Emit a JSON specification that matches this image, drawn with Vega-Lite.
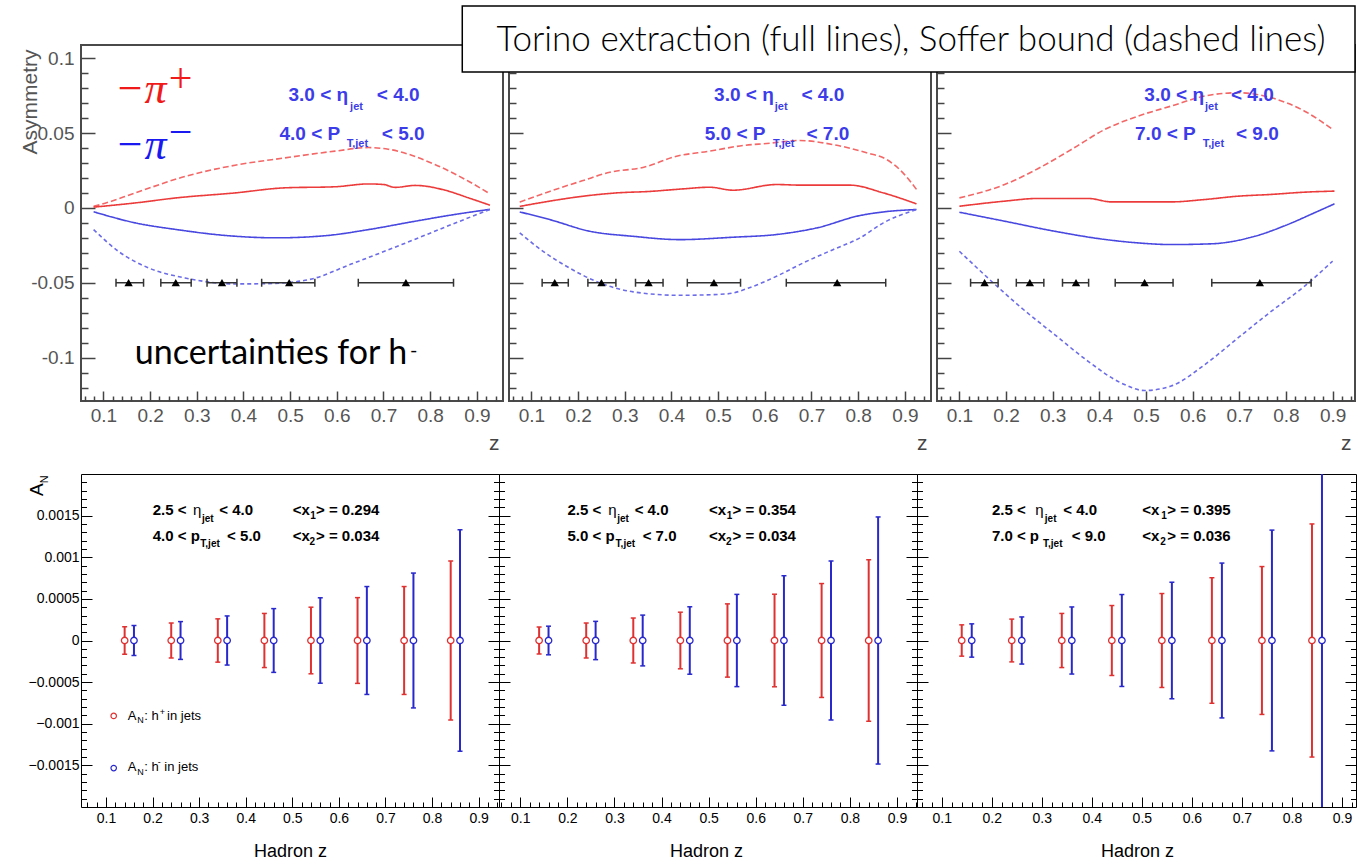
{
"$schema":"https://vega.github.io/schema/vega-lite/v6.json",
"background":"white",
"padding":{"left":18,"top":4,"right":0,"bottom":0},
"spacing":19,
"resolve":{"scale":{"color":"independent","strokeDash":"independent"}},
"config":{
 "view":{"stroke":null},
 "axis":{"domain":false,"grid":false,"labelOverlap":false,"labelFlush":false,"labelBound":false,"labelFont":"Liberation Sans","titleFont":"Liberation Sans","titleFontWeight":"normal"},
 "text":{"font":"Liberation Sans"}
},
"datasets":{
 "curves":[
  {"p":1,"s":"ps","z":0.079,"a":0.001},{"p":1,"s":"ps","z":0.096,"a":0.0024},{"p":1,"s":"ps","z":0.168,"a":0.010},{"p":1,"s":"ps","z":0.275,"a":0.021},{"p":1,"s":"ps","z":0.382,"a":0.0285},{"p":1,"s":"ps","z":0.489,"a":0.0334},{"p":1,"s":"ps","z":0.596,"a":0.0379},{"p":1,"s":"ps","z":0.668,"a":0.0403},{"p":1,"s":"ps","z":0.71,"a":0.0392},{"p":1,"s":"ps","z":0.81,"a":0.029},{"p":1,"s":"ps","z":0.882,"a":0.0178},{"p":1,"s":"ps","z":0.928,"a":0.0094},
  {"p":1,"s":"pt","z":0.079,"a":0.0005},{"p":1,"s":"pt","z":0.168,"a":0.0033},{"p":1,"s":"pt","z":0.257,"a":0.0067},{"p":1,"s":"pt","z":0.382,"a":0.010},{"p":1,"s":"pt","z":0.489,"a":0.0134},{"p":1,"s":"pt","z":0.596,"a":0.0141},{"p":1,"s":"pt","z":0.668,"a":0.016},{"p":1,"s":"pt","z":0.70,"a":0.0156},{"p":1,"s":"pt","z":0.725,"a":0.0137},{"p":1,"s":"pt","z":0.768,"a":0.015},{"p":1,"s":"pt","z":0.832,"a":0.0118},{"p":1,"s":"pt","z":0.882,"a":0.0067},{"p":1,"s":"pt","z":0.928,"a":0.0018},
  {"p":1,"s":"mt","z":0.079,"a":-0.0026},{"p":1,"s":"mt","z":0.168,"a":-0.010},{"p":1,"s":"mt","z":0.257,"a":-0.0145},{"p":1,"s":"mt","z":0.364,"a":-0.0185},{"p":1,"s":"mt","z":0.471,"a":-0.020},{"p":1,"s":"mt","z":0.578,"a":-0.0185},{"p":1,"s":"mt","z":0.668,"a":-0.0145},{"p":1,"s":"mt","z":0.768,"a":-0.0089},{"p":1,"s":"mt","z":0.861,"a":-0.004},{"p":1,"s":"mt","z":0.928,"a":-0.001},
  {"p":1,"s":"ms","z":0.079,"a":-0.0145},{"p":1,"s":"ms","z":0.132,"a":-0.029},{"p":1,"s":"ms","z":0.196,"a":-0.040},{"p":1,"s":"ms","z":0.275,"a":-0.0468},{"p":1,"s":"ms","z":0.382,"a":-0.0508},{"p":1,"s":"ms","z":0.4535,"a":-0.0506},{"p":1,"s":"ms","z":0.539,"a":-0.048},{"p":1,"s":"ms","z":0.632,"a":-0.0374},{"p":1,"s":"ms","z":0.739,"a":-0.0245},{"p":1,"s":"ms","z":0.846,"a":-0.0111},{"p":1,"s":"ms","z":0.928,"a":-0.001},
  {"p":2,"s":"ps","z":0.075,"a":0.0038},{"p":2,"s":"ps","z":0.139,"a":0.011},{"p":2,"s":"ps","z":0.211,"a":0.0183},{"p":2,"s":"ps","z":0.268,"a":0.0238},{"p":2,"s":"ps","z":0.339,"a":0.027},{"p":2,"s":"ps","z":0.411,"a":0.0345},{"p":2,"s":"ps","z":0.482,"a":0.0379},{"p":2,"s":"ps","z":0.554,"a":0.0417},{"p":2,"s":"ps","z":0.604,"a":0.043},{"p":2,"s":"ps","z":0.675,"a":0.045},{"p":2,"s":"ps","z":0.746,"a":0.0423},{"p":2,"s":"ps","z":0.818,"a":0.0368},{"p":2,"s":"ps","z":0.861,"a":0.0323},{"p":2,"s":"ps","z":0.896,"a":0.0234},{"p":2,"s":"ps","z":0.925,"a":0.0123},
  {"p":2,"s":"pt","z":0.075,"a":0.001},{"p":2,"s":"pt","z":0.139,"a":0.0045},{"p":2,"s":"pt","z":0.211,"a":0.0078},{"p":2,"s":"pt","z":0.282,"a":0.010},{"p":2,"s":"pt","z":0.354,"a":0.011},{"p":2,"s":"pt","z":0.425,"a":0.0127},{"p":2,"s":"pt","z":0.482,"a":0.0138},{"p":2,"s":"pt","z":0.532,"a":0.0118},{"p":2,"s":"pt","z":0.625,"a":0.0156},{"p":2,"s":"pt","z":0.675,"a":0.0152},{"p":2,"s":"pt","z":0.782,"a":0.0152},{"p":2,"s":"pt","z":0.854,"a":0.010},{"p":2,"s":"pt","z":0.925,"a":0.0027},
  {"p":2,"s":"mt","z":0.075,"a":-0.0027},{"p":2,"s":"mt","z":0.139,"a":-0.0078},{"p":2,"s":"mt","z":0.225,"a":-0.0156},{"p":2,"s":"mt","z":0.318,"a":-0.019},{"p":2,"s":"mt","z":0.418,"a":-0.0212},{"p":2,"s":"mt","z":0.532,"a":-0.0196},{"p":2,"s":"mt","z":0.625,"a":-0.0178},{"p":2,"s":"mt","z":0.711,"a":-0.0134},{"p":2,"s":"mt","z":0.804,"a":-0.0051},{"p":2,"s":"mt","z":0.854,"a":-0.0027},{"p":2,"s":"mt","z":0.925,"a":-0.0011},
  {"p":2,"s":"ms","z":0.075,"a":-0.0167},{"p":2,"s":"ms","z":0.125,"a":-0.029},{"p":2,"s":"ms","z":0.175,"a":-0.039},{"p":2,"s":"ms","z":0.246,"a":-0.050},{"p":2,"s":"ms","z":0.318,"a":-0.0561},{"p":2,"s":"ms","z":0.418,"a":-0.0584},{"p":2,"s":"ms","z":0.518,"a":-0.0575},{"p":2,"s":"ms","z":0.575,"a":-0.0524},{"p":2,"s":"ms","z":0.625,"a":-0.0457},{"p":2,"s":"ms","z":0.682,"a":-0.0368},{"p":2,"s":"ms","z":0.746,"a":-0.0279},{"p":2,"s":"ms","z":0.804,"a":-0.020},{"p":2,"s":"ms","z":0.854,"a":-0.010},{"p":2,"s":"ms","z":0.925,"a":-0.0011},
  {"p":3,"s":"ps","z":0.1,"a":0.0067},{"p":3,"s":"ps","z":0.197,"a":0.0156},{"p":3,"s":"ps","z":0.269,"a":0.0263},{"p":3,"s":"ps","z":0.34,"a":0.039},{"p":3,"s":"ps","z":0.412,"a":0.0524},{"p":3,"s":"ps","z":0.483,"a":0.0613},{"p":3,"s":"ps","z":0.554,"a":0.068},{"p":3,"s":"ps","z":0.626,"a":0.0747},{"p":3,"s":"ps","z":0.697,"a":0.0769},{"p":3,"s":"ps","z":0.769,"a":0.0735},{"p":3,"s":"ps","z":0.84,"a":0.0646},{"p":3,"s":"ps","z":0.9,"a":0.0524},
  {"p":3,"s":"pt","z":0.1,"a":0.0011},{"p":3,"s":"pt","z":0.197,"a":0.0045},{"p":3,"s":"pt","z":0.269,"a":0.0063},{"p":3,"s":"pt","z":0.376,"a":0.0063},{"p":3,"s":"pt","z":0.426,"a":0.004},{"p":3,"s":"pt","z":0.554,"a":0.004},{"p":3,"s":"pt","z":0.626,"a":0.0056},{"p":3,"s":"pt","z":0.697,"a":0.0078},{"p":3,"s":"pt","z":0.769,"a":0.009},{"p":3,"s":"pt","z":0.84,"a":0.0105},{"p":3,"s":"pt","z":0.904,"a":0.0112},
  {"p":3,"s":"mt","z":0.1,"a":-0.0029},{"p":3,"s":"mt","z":0.197,"a":-0.0089},{"p":3,"s":"mt","z":0.304,"a":-0.0156},{"p":3,"s":"mt","z":0.412,"a":-0.0211},{"p":3,"s":"mt","z":0.483,"a":-0.0234},{"p":3,"s":"mt","z":0.554,"a":-0.0245},{"p":3,"s":"mt","z":0.64,"a":-0.024},{"p":3,"s":"mt","z":0.733,"a":-0.019},{"p":3,"s":"mt","z":0.804,"a":-0.0111},{"p":3,"s":"mt","z":0.861,"a":-0.0033},{"p":3,"s":"mt","z":0.904,"a":0.0027},
  {"p":3,"s":"ms","z":0.1,"a":-0.029},{"p":3,"s":"ms","z":0.161,"a":-0.0468},{"p":3,"s":"ms","z":0.233,"a":-0.0668},{"p":3,"s":"ms","z":0.304,"a":-0.0846},{"p":3,"s":"ms","z":0.376,"a":-0.1025},{"p":3,"s":"ms","z":0.447,"a":-0.117},{"p":3,"s":"ms","z":0.497,"a":-0.122},{"p":3,"s":"ms","z":0.554,"a":-0.119},{"p":3,"s":"ms","z":0.626,"a":-0.1047},{"p":3,"s":"ms","z":0.697,"a":-0.0869},{"p":3,"s":"ms","z":0.769,"a":-0.069},{"p":3,"s":"ms","z":0.84,"a":-0.0523},{"p":3,"s":"ms","z":0.9,"a":-0.0356}
 ],
 "tri":[
  {"p":1,"z":0.154,"lo":0.127,"hi":0.186,"a":-0.05},{"p":1,"z":0.255,"lo":0.223,"hi":0.288,"a":-0.05},{"p":1,"z":0.354,"lo":0.322,"hi":0.386,"a":-0.05},{"p":1,"z":0.498,"lo":0.439,"hi":0.553,"a":-0.05},{"p":1,"z":0.748,"lo":0.646,"hi":0.85,"a":-0.05},
  {"p":2,"z":0.15,"lo":0.123,"hi":0.179,"a":-0.05},{"p":2,"z":0.25,"lo":0.221,"hi":0.281,"a":-0.05},{"p":2,"z":0.351,"lo":0.323,"hi":0.382,"a":-0.05},{"p":2,"z":0.491,"lo":0.434,"hi":0.548,"a":-0.05},{"p":2,"z":0.755,"lo":0.646,"hi":0.859,"a":-0.05},
  {"p":3,"z":0.154,"lo":0.124,"hi":0.183,"a":-0.05},{"p":3,"z":0.251,"lo":0.222,"hi":0.281,"a":-0.05},{"p":3,"z":0.35,"lo":0.321,"hi":0.377,"a":-0.05},{"p":3,"z":0.497,"lo":0.434,"hi":0.558,"a":-0.05},{"p":3,"z":0.744,"lo":0.641,"hi":0.854,"a":-0.05}
 ],
 "an":[
  {"p":4,"q":"hp","z":0.14,"a":0,"lo":-0.000165,"hi":0.000165},{"p":4,"q":"hp","z":0.24,"a":0,"lo":-0.00021,"hi":0.00021},{"p":4,"q":"hp","z":0.34,"a":0,"lo":-0.00026,"hi":0.00026},{"p":4,"q":"hp","z":0.44,"a":0,"lo":-0.000325,"hi":0.000325},{"p":4,"q":"hp","z":0.54,"a":0,"lo":-0.0004,"hi":0.0004},{"p":4,"q":"hp","z":0.64,"a":0,"lo":-0.000515,"hi":0.000515},{"p":4,"q":"hp","z":0.74,"a":0,"lo":-0.000648,"hi":0.000648},{"p":4,"q":"hp","z":0.84,"a":0,"lo":-0.000955,"hi":0.000955},
  {"p":4,"q":"hm","z":0.16,"a":0,"lo":-0.00018,"hi":0.00018},{"p":4,"q":"hm","z":0.26,"a":0,"lo":-0.000227,"hi":0.000227},{"p":4,"q":"hm","z":0.36,"a":0,"lo":-0.000295,"hi":0.000295},{"p":4,"q":"hm","z":0.46,"a":0,"lo":-0.000383,"hi":0.000383},{"p":4,"q":"hm","z":0.56,"a":0,"lo":-0.000513,"hi":0.000513},{"p":4,"q":"hm","z":0.66,"a":0,"lo":-0.000648,"hi":0.000648},{"p":4,"q":"hm","z":0.76,"a":0,"lo":-0.00081,"hi":0.00081},{"p":4,"q":"hm","z":0.86,"a":0,"lo":-0.00133,"hi":0.00133},
  {"p":5,"q":"hp","z":0.14,"a":0,"lo":-0.000162,"hi":0.000162},{"p":5,"q":"hp","z":0.24,"a":0,"lo":-0.00021,"hi":0.00021},{"p":5,"q":"hp","z":0.34,"a":0,"lo":-0.00027,"hi":0.00027},{"p":5,"q":"hp","z":0.44,"a":0,"lo":-0.00034,"hi":0.00034},{"p":5,"q":"hp","z":0.54,"a":0,"lo":-0.00044,"hi":0.00044},{"p":5,"q":"hp","z":0.64,"a":0,"lo":-0.000556,"hi":0.000556},{"p":5,"q":"hp","z":0.74,"a":0,"lo":-0.000684,"hi":0.000684},{"p":5,"q":"hp","z":0.84,"a":0,"lo":-0.00097,"hi":0.00097},
  {"p":5,"q":"hm","z":0.16,"a":0,"lo":-0.000172,"hi":0.000172},{"p":5,"q":"hm","z":0.26,"a":0,"lo":-0.00023,"hi":0.00023},{"p":5,"q":"hm","z":0.36,"a":0,"lo":-0.000305,"hi":0.000305},{"p":5,"q":"hm","z":0.46,"a":0,"lo":-0.000405,"hi":0.000405},{"p":5,"q":"hm","z":0.56,"a":0,"lo":-0.000554,"hi":0.000554},{"p":5,"q":"hm","z":0.66,"a":0,"lo":-0.000778,"hi":0.000778},{"p":5,"q":"hm","z":0.76,"a":0,"lo":-0.000955,"hi":0.000955},{"p":5,"q":"hm","z":0.86,"a":0,"lo":-0.001484,"hi":0.001484},
  {"p":6,"q":"hp","z":0.14,"a":0,"lo":-0.000188,"hi":0.000188},{"p":6,"q":"hp","z":0.24,"a":0,"lo":-0.000257,"hi":0.000257},{"p":6,"q":"hp","z":0.34,"a":0,"lo":-0.000325,"hi":0.000325},{"p":6,"q":"hp","z":0.44,"a":0,"lo":-0.00042,"hi":0.00042},{"p":6,"q":"hp","z":0.54,"a":0,"lo":-0.000564,"hi":0.000564},{"p":6,"q":"hp","z":0.64,"a":0,"lo":-0.000754,"hi":0.000754},{"p":6,"q":"hp","z":0.74,"a":0,"lo":-0.000888,"hi":0.000888},{"p":6,"q":"hp","z":0.84,"a":0,"lo":-0.0014,"hi":0.0014},
  {"p":6,"q":"hm","z":0.16,"a":0,"lo":-0.0002,"hi":0.0002},{"p":6,"q":"hm","z":0.26,"a":0,"lo":-0.000283,"hi":0.000283},{"p":6,"q":"hm","z":0.36,"a":0,"lo":-0.000403,"hi":0.000403},{"p":6,"q":"hm","z":0.46,"a":0,"lo":-0.000552,"hi":0.000552},{"p":6,"q":"hm","z":0.56,"a":0,"lo":-0.0007,"hi":0.0007},{"p":6,"q":"hm","z":0.66,"a":0,"lo":-0.00093,"hi":0.00093},{"p":6,"q":"hm","z":0.76,"a":0,"lo":-0.001326,"hi":0.001326},{"p":6,"q":"hm","z":0.86,"a":0,"lo":-0.0022,"hi":0.0022}
 ],
 "legc":[{"z":0.1165,"a":-0.000906,"q":"hp"},{"z":0.1165,"a":-0.001532,"q":"hm"}],
 "box":[{"x1":-0.9656,"x2":0.948,"y1":0.0907,"y2":0.1348,"tz":-0.0037,"ta":0.1047,"t":"Torino extraction (full lines), Soffer bound (dashed lines)"}],
 "txt":[
  {"p":1,"k":"big","z":0.4964,"a":0.0713,"t":"3.0 < η"},{"p":1,"k":"sub","z":0.6284,"a":0.0653,"t":"jet"},{"p":1,"k":"big","z":0.6856,"a":0.0713,"t":"<  4.0"},
  {"p":1,"k":"big","z":0.4771,"a":0.0451,"t":"4.0 < P"},{"p":1,"k":"sub","z":0.6213,"a":0.0404,"t":"T,jet"},{"p":1,"k":"big","z":0.6963,"a":0.0451,"t":"< 5.0"},
  {"p":2,"k":"big","z":0.4913,"a":0.0713,"t":"3.0 < η"},{"p":2,"k":"sub","z":0.6213,"a":0.0653,"t":"jet"},{"p":2,"k":"big","z":0.6785,"a":0.0713,"t":"<  4.0"},
  {"p":2,"k":"big","z":0.4713,"a":0.0451,"t":"5.0 < P"},{"p":2,"k":"sub","z":0.6177,"a":0.0404,"t":"T,jet"},{"p":2,"k":"big","z":0.6892,"a":0.0451,"t":"< 7.0"},
  {"p":3,"k":"big","z":0.4964,"a":0.0713,"t":"3.0 < η"},{"p":3,"k":"sub","z":0.6265,"a":0.0653,"t":"jet"},{"p":3,"k":"big","z":0.6822,"a":0.0713,"t":"<  4.0"},
  {"p":3,"k":"big","z":0.4765,"a":0.0451,"t":"7.0 < P"},{"p":3,"k":"sub","z":0.6215,"a":0.0404,"t":"T,jet"},{"p":3,"k":"big","z":0.6929,"a":0.0451,"t":"< 9.0"},
  {"p":1,"k":"pir","z":0.1242,"a":0.0702,"t":"−π"},{"p":1,"k":"pib","z":0.1242,"a":0.0324,"t":"−π"},
  {"p":1,"k":"supr","z":0.24,"a":0.086,"t":"+"},{"p":1,"k":"supb","z":0.24,"a":0.0499,"t":"−"},
  {"p":1,"k":"unc","z":0.1673,"a":-0.1045,"t":"uncertainties for h"},{"p":1,"k":"uncsup","z":0.757,"a":-0.0958,"t":"-"},
  {"p":4,"k":"bb","z":0.2003,"a":0.001508,"t":"2.5 <"},{"p":4,"k":"eta","z":0.287,"a":0.001508,"t":"η"},{"p":4,"k":"bsub","z":0.306,"a":0.00142,"t":"jet"},{"p":4,"k":"bb","z":0.343,"a":0.001508,"t":"< 4.0"},
  {"p":4,"k":"bb","z":0.5008,"a":0.001508,"t":"<x"},{"p":4,"k":"bsub","z":0.5386,"a":0.00146,"t":"1"},{"p":4,"k":"bb","z":0.5508,"a":0.001508,"t":"> = 0.294"},
  {"p":4,"k":"bb","z":0.2003,"a":0.0012,"t":"4.0 < p"},{"p":4,"k":"bsub","z":0.3025,"a":0.001122,"t":"T,jet"},{"p":4,"k":"bb","z":0.36,"a":0.0012,"t":"< 5.0"},
  {"p":4,"k":"bb","z":0.5008,"a":0.0012,"t":"<x"},{"p":4,"k":"bsub","z":0.537,"a":0.00115,"t":"2"},{"p":4,"k":"bb","z":0.5508,"a":0.0012,"t":"> = 0.034"},
  {"p":5,"k":"bb","z":0.2003,"a":0.001508,"t":"2.5 <"},{"p":5,"k":"eta","z":0.287,"a":0.001508,"t":"η"},{"p":5,"k":"bsub","z":0.306,"a":0.00142,"t":"jet"},{"p":5,"k":"bb","z":0.343,"a":0.001508,"t":"< 4.0"},
  {"p":5,"k":"bb","z":0.5008,"a":0.001508,"t":"<x"},{"p":5,"k":"bsub","z":0.5386,"a":0.00146,"t":"1"},{"p":5,"k":"bb","z":0.5508,"a":0.001508,"t":"> = 0.354"},
  {"p":5,"k":"bb","z":0.2003,"a":0.0012,"t":"5.0 < p"},{"p":5,"k":"bsub","z":0.3025,"a":0.001122,"t":"T,jet"},{"p":5,"k":"bb","z":0.36,"a":0.0012,"t":"< 7.0"},
  {"p":5,"k":"bb","z":0.5008,"a":0.0012,"t":"<x"},{"p":5,"k":"bsub","z":0.537,"a":0.00115,"t":"2"},{"p":5,"k":"bb","z":0.5508,"a":0.0012,"t":"> = 0.034"},
  {"p":6,"k":"bb","z":0.2003,"a":0.001508,"t":"2.5 <"},{"p":6,"k":"eta","z":0.287,"a":0.001508,"t":"η"},{"p":6,"k":"bsub","z":0.306,"a":0.00142,"t":"jet"},{"p":6,"k":"bb","z":0.343,"a":0.001508,"t":"< 4.0"},
  {"p":6,"k":"bb","z":0.5008,"a":0.001508,"t":"<x"},{"p":6,"k":"bsub","z":0.5386,"a":0.00146,"t":"1"},{"p":6,"k":"bb","z":0.5508,"a":0.001508,"t":"> = 0.395"},
  {"p":6,"k":"bb","z":0.2003,"a":0.0012,"t":"7.0 < p"},{"p":6,"k":"bsub","z":0.3025,"a":0.001122,"t":"T,jet"},{"p":6,"k":"bb","z":0.36,"a":0.0012,"t":"< 9.0"},
  {"p":6,"k":"bb","z":0.5008,"a":0.0012,"t":"<x"},{"p":6,"k":"bsub","z":0.537,"a":0.00115,"t":"2"},{"p":6,"k":"bb","z":0.5508,"a":0.0012,"t":"> = 0.036"},
  {"p":4,"k":"leg","z":0.1466,"a":-0.000954,"t":"A"},{"p":4,"k":"legsub","z":0.1673,"a":-0.000994,"t":"N"},{"p":4,"k":"leg","z":0.1822,"a":-0.000954,"t":": h"},{"p":4,"k":"legsub","z":0.2153,"a":-0.000894,"t":"+"},{"p":4,"k":"leg","z":0.231,"a":-0.000954,"t":"in jets"},
  {"p":4,"k":"leg","z":0.1466,"a":-0.001572,"t":"A"},{"p":4,"k":"legsub","z":0.1673,"a":-0.001612,"t":"N"},{"p":4,"k":"leg","z":0.1822,"a":-0.001572,"t":": h"},{"p":4,"k":"legsub","z":0.211,"a":-0.001493,"t":"-"},{"p":4,"k":"leg","z":0.2252,"a":-0.001572,"t":"in jets"},
  {"p":4,"k":"AN","z":-0.0359,"a":0.001736,"t":"A"},{"p":4,"k":"ANsub","z":-0.0245,"a":0.00189,"t":"N"}
 ]
},
"vconcat":[
{"hconcat":[
 {"width":422,"height":356,"view":{"stroke":"#4a4a4a","strokeWidth":2},
  "layer":[
   {"mark":{"type":"rule","color":"#6f6fe6","strokeWidth":2},"encoding":{"y":{"datum":0,"type":"quantitative","scale":{"domain":[-0.129,0.1088]},"axis":{"title":"Asymmetry","titleX":-62,"titleY":4,"titleAngle":270,"titleAlign":"right","titleBaseline":"top","titleFontSize":21,"titleColor":"#555","values":[-0.12,-0.11,-0.1,-0.09,-0.08,-0.07,-0.06,-0.05,-0.04,-0.03,-0.02,-0.01,0,0.01,0.02,0.03,0.04,0.05,0.06,0.07,0.08,0.09,0.1],"labelExpr":"abs(datum.value*20-round(datum.value*20))<0.001 ? replace(format(datum.value,'~g'),'−','-') : ''","labelOverlap":false,"labelFontSize":19,"labelColor":"#555","labelPadding":21,"tickSize":{"condition":{"test":"abs(datum.value*20-round(datum.value*20))<0.001","value":-14},"value":-7},"tickColor":"#444","tickWidth":1.5}}}},
   {"encoding":{
     "x":{"field":"z","type":"quantitative","scale":{"domain":[0.052,0.956]},"axis":{"title":"z","titleX":418,"titleY":48,"titleAlign":"right","titleBaseline":"alphabetic","titleFontSize":21,"titleColor":"#444","values":[0.06,0.08,0.1,0.12,0.14,0.16,0.18,0.2,0.22,0.24,0.26,0.28,0.3,0.32,0.34,0.36,0.38,0.4,0.42,0.44,0.46,0.48,0.5,0.52,0.54,0.56,0.58,0.6,0.62,0.64,0.66,0.68,0.7,0.72,0.74,0.76,0.78,0.8,0.82,0.84,0.86,0.88,0.9,0.92,0.94],"labelExpr":"abs(datum.value*10-round(datum.value*10))<0.001 ? format(datum.value,'.1f') : ''","labelFontSize":19,"labelColor":"#555","labelPadding":15,"tickSize":{"condition":{"test":"abs(datum.value*10-round(datum.value*10))<0.001","value":-10},"value":-5},"tickColor":"#444","tickWidth":1.5}},
     "y":{"field":"a","type":"quantitative","scale":{"domain":[-0.129,0.1088]},"axis":{"title":"Asymmetry","titleX":-62,"titleY":4,"titleAngle":270,"titleAlign":"right","titleBaseline":"top","titleFontSize":21,"titleColor":"#555","values":[-0.12,-0.11,-0.1,-0.09,-0.08,-0.07,-0.06,-0.05,-0.04,-0.03,-0.02,-0.01,0,0.01,0.02,0.03,0.04,0.05,0.06,0.07,0.08,0.09,0.1],"labelExpr":"abs(datum.value*20-round(datum.value*20))<0.001 ? replace(format(datum.value,'~g'),'−','-') : ''","labelOverlap":false,"labelFontSize":19,"labelColor":"#555","labelPadding":21,"tickSize":{"condition":{"test":"abs(datum.value*20-round(datum.value*20))<0.001","value":-14},"value":-7},"tickColor":"#444","tickWidth":1.5}}},
    "layer":[
     {"data":{"name":"curves"},"transform":[{"filter":"datum.p==1"}],"mark":{"type":"line","strokeWidth":1.6,"interpolate":"monotone"},"encoding":{"color":{"field":"s","type":"nominal","scale":{"domain":["pt","ps","mt","ms"],"range":["#ec3b3b","#f36767","#4848e0","#6c6ce8"]},"legend":null},"strokeDash":{"field":"s","type":"nominal","scale":{"domain":["pt","ps","mt","ms"],"range":[[1,0],[6,3],[1,0],[4,3]]},"legend":null}}},
     {"data":{"name":"tri"},"transform":[{"filter":"datum.p==1"}],"mark":{"type":"rule","color":"#333","strokeWidth":1.5},"encoding":{"x":{"field":"lo","type":"quantitative","scale":{"domain":[0.052,0.956]}},"x2":{"field":"hi"}}},
     {"data":{"name":"tri"},"transform":[{"filter":"datum.p==1"}],"mark":{"type":"point","shape":"M0,-1L0,1","size":64,"filled":false,"color":"#333","strokeWidth":1.5,"opacity":1},"encoding":{"x":{"field":"lo","type":"quantitative","scale":{"domain":[0.052,0.956]}}}},
     {"data":{"name":"tri"},"transform":[{"filter":"datum.p==1"}],"mark":{"type":"point","shape":"M0,-1L0,1","size":64,"filled":false,"color":"#333","strokeWidth":1.5,"opacity":1},"encoding":{"x":{"field":"hi","type":"quantitative","scale":{"domain":[0.052,0.956]}}}},
     {"data":{"name":"tri"},"transform":[{"filter":"datum.p==1"}],"mark":{"type":"point","shape":"triangle-up","filled":true,"color":"black","size":70,"opacity":1}},
     {"data":{"name":"txt"},"transform":[{"filter":"datum.p==1 && datum.k=='big'"}],"mark":{"type":"text","align":"left","baseline":"alphabetic","font":"Liberation Sans","fontSize":19,"fontWeight":"bold","color":"#3c3ce8"},"encoding":{"text":{"field":"t"}}},
     {"data":{"name":"txt"},"transform":[{"filter":"datum.p==1 && datum.k=='sub'"}],"mark":{"type":"text","align":"left","baseline":"alphabetic","font":"Liberation Sans","fontSize":11,"fontWeight":"bold","color":"#3c3ce8"},"encoding":{"text":{"field":"t"}}},
     {"data":{"name":"txt"},"transform":[{"filter":"datum.p==1 && datum.k=='pir'"}],"mark":{"type":"text","align":"left","baseline":"alphabetic","font":"Liberation Serif","fontSize":44,"fontStyle":"italic","color":"#f01a1a"},"encoding":{"text":{"field":"t"}}},
     {"data":{"name":"txt"},"transform":[{"filter":"datum.p==1 && datum.k=='pib'"}],"mark":{"type":"text","align":"left","baseline":"alphabetic","font":"Liberation Serif","fontSize":44,"fontStyle":"italic","color":"#1a1af0"},"encoding":{"text":{"field":"t"}}},
     {"data":{"name":"txt"},"transform":[{"filter":"datum.p==1 && datum.k=='supr'"}],"mark":{"type":"text","align":"left","baseline":"middle","font":"Liberation Serif","fontSize":42,"color":"#f01a1a"},"encoding":{"text":{"field":"t"}}},
     {"data":{"name":"txt"},"transform":[{"filter":"datum.p==1 && datum.k=='supb'"}],"mark":{"type":"text","align":"left","baseline":"middle","font":"Liberation Serif","fontSize":42,"color":"#1a1af0"},"encoding":{"text":{"field":"t"}}},
     {"data":{"name":"txt"},"transform":[{"filter":"datum.p==1 && datum.k=='unc'"}],"mark":{"type":"text","align":"left","baseline":"alphabetic","font":"Lato","fontSize":34,"color":"black"},"encoding":{"text":{"field":"t"}}},
     {"data":{"name":"txt"},"transform":[{"filter":"datum.p==1 && datum.k=='uncsup'"}],"mark":{"type":"text","align":"left","baseline":"middle","font":"Lato","fontSize":20,"color":"black"},"encoding":{"text":{"field":"t"}}}
    ]}
  ]},
 {"width":422,"height":356,"view":{"stroke":"#4a4a4a","strokeWidth":2},
  "layer":[
   {"mark":{"type":"rule","color":"#6f6fe6","strokeWidth":2},"encoding":{"y":{"datum":0,"type":"quantitative","scale":{"domain":[-0.129,0.1088]},"axis":{"title":null,"labels":false,"values":[-0.12,-0.11,-0.1,-0.09,-0.08,-0.07,-0.06,-0.05,-0.04,-0.03,-0.02,-0.01,0,0.01,0.02,0.03,0.04,0.05,0.06,0.07,0.08,0.09,0.1],"tickSize":{"condition":{"test":"abs(datum.value*20-round(datum.value*20))<0.001","value":-14},"value":-7},"tickColor":"#444","tickWidth":1.5}}}},
   {"encoding":{
     "x":{"field":"z","type":"quantitative","scale":{"domain":[0.052,0.956]},"axis":{"title":"z","titleX":418,"titleY":48,"titleAlign":"right","titleBaseline":"alphabetic","titleFontSize":21,"titleColor":"#444","values":[0.06,0.08,0.1,0.12,0.14,0.16,0.18,0.2,0.22,0.24,0.26,0.28,0.3,0.32,0.34,0.36,0.38,0.4,0.42,0.44,0.46,0.48,0.5,0.52,0.54,0.56,0.58,0.6,0.62,0.64,0.66,0.68,0.7,0.72,0.74,0.76,0.78,0.8,0.82,0.84,0.86,0.88,0.9,0.92,0.94],"labelExpr":"abs(datum.value*10-round(datum.value*10))<0.001 ? format(datum.value,'.1f') : ''","labelFontSize":19,"labelColor":"#555","labelPadding":15,"tickSize":{"condition":{"test":"abs(datum.value*10-round(datum.value*10))<0.001","value":-10},"value":-5},"tickColor":"#444","tickWidth":1.5}},
     "y":{"field":"a","type":"quantitative","scale":{"domain":[-0.129,0.1088]},"axis":{"title":null,"labels":false,"values":[-0.12,-0.11,-0.1,-0.09,-0.08,-0.07,-0.06,-0.05,-0.04,-0.03,-0.02,-0.01,0,0.01,0.02,0.03,0.04,0.05,0.06,0.07,0.08,0.09,0.1],"tickSize":{"condition":{"test":"abs(datum.value*20-round(datum.value*20))<0.001","value":-14},"value":-7},"tickColor":"#444","tickWidth":1.5}}},
    "layer":[
     {"data":{"name":"curves"},"transform":[{"filter":"datum.p==2"}],"mark":{"type":"line","strokeWidth":1.6,"interpolate":"monotone"},"encoding":{"color":{"field":"s","type":"nominal","scale":{"domain":["pt","ps","mt","ms"],"range":["#ec3b3b","#f36767","#4848e0","#6c6ce8"]},"legend":null},"strokeDash":{"field":"s","type":"nominal","scale":{"domain":["pt","ps","mt","ms"],"range":[[1,0],[6,3],[1,0],[4,3]]},"legend":null}}},
     {"data":{"name":"tri"},"transform":[{"filter":"datum.p==2"}],"mark":{"type":"rule","color":"#333","strokeWidth":1.5},"encoding":{"x":{"field":"lo","type":"quantitative","scale":{"domain":[0.052,0.956]}},"x2":{"field":"hi"}}},
     {"data":{"name":"tri"},"transform":[{"filter":"datum.p==2"}],"mark":{"type":"point","shape":"M0,-1L0,1","size":64,"filled":false,"color":"#333","strokeWidth":1.5,"opacity":1},"encoding":{"x":{"field":"lo","type":"quantitative","scale":{"domain":[0.052,0.956]}}}},
     {"data":{"name":"tri"},"transform":[{"filter":"datum.p==2"}],"mark":{"type":"point","shape":"M0,-1L0,1","size":64,"filled":false,"color":"#333","strokeWidth":1.5,"opacity":1},"encoding":{"x":{"field":"hi","type":"quantitative","scale":{"domain":[0.052,0.956]}}}},
     {"data":{"name":"tri"},"transform":[{"filter":"datum.p==2"}],"mark":{"type":"point","shape":"triangle-up","filled":true,"color":"black","size":70,"opacity":1}},
     {"data":{"name":"txt"},"transform":[{"filter":"datum.p==2 && datum.k=='big'"}],"mark":{"type":"text","align":"left","baseline":"alphabetic","font":"Liberation Sans","fontSize":19,"fontWeight":"bold","color":"#3c3ce8"},"encoding":{"text":{"field":"t"}}},
     {"data":{"name":"txt"},"transform":[{"filter":"datum.p==2 && datum.k=='sub'"}],"mark":{"type":"text","align":"left","baseline":"alphabetic","font":"Liberation Sans","fontSize":11,"fontWeight":"bold","color":"#3c3ce8"},"encoding":{"text":{"field":"t"}}}
    ]}
  ]},
 {"width":418,"height":356,"view":{"stroke":"#4a4a4a","strokeWidth":2},
  "layer":[
   {"mark":{"type":"rule","color":"#6f6fe6","strokeWidth":2},"encoding":{"y":{"datum":0,"type":"quantitative","scale":{"domain":[-0.129,0.1088]},"axis":{"title":null,"labels":false,"values":[-0.12,-0.11,-0.1,-0.09,-0.08,-0.07,-0.06,-0.05,-0.04,-0.03,-0.02,-0.01,0,0.01,0.02,0.03,0.04,0.05,0.06,0.07,0.08,0.09,0.1],"tickSize":{"condition":{"test":"abs(datum.value*20-round(datum.value*20))<0.001","value":-14},"value":-7},"tickColor":"#444","tickWidth":1.5}}}},
   {"encoding":{
     "x":{"field":"z","type":"quantitative","scale":{"domain":[0.052,0.948]},"axis":{"title":"z","titleX":414,"titleY":48,"titleAlign":"right","titleBaseline":"alphabetic","titleFontSize":21,"titleColor":"#444","values":[0.06,0.08,0.1,0.12,0.14,0.16,0.18,0.2,0.22,0.24,0.26,0.28,0.3,0.32,0.34,0.36,0.38,0.4,0.42,0.44,0.46,0.48,0.5,0.52,0.54,0.56,0.58,0.6,0.62,0.64,0.66,0.68,0.7,0.72,0.74,0.76,0.78,0.8,0.82,0.84,0.86,0.88,0.9,0.92,0.94],"labelExpr":"abs(datum.value*10-round(datum.value*10))<0.001 ? format(datum.value,'.1f') : ''","labelFontSize":19,"labelColor":"#555","labelPadding":15,"tickSize":{"condition":{"test":"abs(datum.value*10-round(datum.value*10))<0.001","value":-10},"value":-5},"tickColor":"#444","tickWidth":1.5}},
     "y":{"field":"a","type":"quantitative","scale":{"domain":[-0.129,0.1088]},"axis":{"title":null,"labels":false,"values":[-0.12,-0.11,-0.1,-0.09,-0.08,-0.07,-0.06,-0.05,-0.04,-0.03,-0.02,-0.01,0,0.01,0.02,0.03,0.04,0.05,0.06,0.07,0.08,0.09,0.1],"tickSize":{"condition":{"test":"abs(datum.value*20-round(datum.value*20))<0.001","value":-14},"value":-7},"tickColor":"#444","tickWidth":1.5}}},
    "layer":[
     {"data":{"name":"curves"},"transform":[{"filter":"datum.p==3"}],"mark":{"type":"line","strokeWidth":1.6,"interpolate":"monotone"},"encoding":{"color":{"field":"s","type":"nominal","scale":{"domain":["pt","ps","mt","ms"],"range":["#ec3b3b","#f36767","#4848e0","#6c6ce8"]},"legend":null},"strokeDash":{"field":"s","type":"nominal","scale":{"domain":["pt","ps","mt","ms"],"range":[[1,0],[6,3],[1,0],[4,3]]},"legend":null}}},
     {"data":{"name":"tri"},"transform":[{"filter":"datum.p==3"}],"mark":{"type":"rule","color":"#333","strokeWidth":1.5},"encoding":{"x":{"field":"lo","type":"quantitative","scale":{"domain":[0.052,0.948]}},"x2":{"field":"hi"}}},
     {"data":{"name":"tri"},"transform":[{"filter":"datum.p==3"}],"mark":{"type":"point","shape":"M0,-1L0,1","size":64,"filled":false,"color":"#333","strokeWidth":1.5,"opacity":1},"encoding":{"x":{"field":"lo","type":"quantitative","scale":{"domain":[0.052,0.948]}}}},
     {"data":{"name":"tri"},"transform":[{"filter":"datum.p==3"}],"mark":{"type":"point","shape":"M0,-1L0,1","size":64,"filled":false,"color":"#333","strokeWidth":1.5,"opacity":1},"encoding":{"x":{"field":"hi","type":"quantitative","scale":{"domain":[0.052,0.948]}}}},
     {"data":{"name":"tri"},"transform":[{"filter":"datum.p==3"}],"mark":{"type":"point","shape":"triangle-up","filled":true,"color":"black","size":70,"opacity":1}},
     {"data":{"name":"txt"},"transform":[{"filter":"datum.p==3 && datum.k=='big'"}],"mark":{"type":"text","align":"left","baseline":"alphabetic","font":"Liberation Sans","fontSize":19,"fontWeight":"bold","color":"#3c3ce8"},"encoding":{"text":{"field":"t"}}},
     {"data":{"name":"txt"},"transform":[{"filter":"datum.p==3 && datum.k=='sub'"}],"mark":{"type":"text","align":"left","baseline":"alphabetic","font":"Liberation Sans","fontSize":11,"fontWeight":"bold","color":"#3c3ce8"},"encoding":{"text":{"field":"t"}}},
     {"data":{"name":"box"},"mark":{"type":"rect","fill":"white","stroke":"black","strokeWidth":1.5},"encoding":{"x":{"field":"x1","type":"quantitative","scale":{"domain":[0.052,0.948]}},"x2":{"field":"x2"},"y":{"field":"y1","type":"quantitative","scale":{"domain":[-0.129,0.1088]}},"y2":{"field":"y2"}}},
     {"data":{"name":"box"},"mark":{"type":"text","align":"center","baseline":"alphabetic","font":"Lato","fontSize":35,"fontWeight":300,"color":"black"},"encoding":{"x":{"field":"tz","type":"quantitative","scale":{"domain":[0.052,0.948]}},"y":{"field":"ta","type":"quantitative","scale":{"domain":[-0.129,0.1088]}},"text":{"field":"t"}}}
    ]}
  ]}
],"spacing":6,"bounds":"flush"},
{"hconcat":[
 {"width":418,"height":333,"view":{"stroke":"black","strokeWidth":1},"resolve":{"axis":{"y":"independent"}},
  "layer":[
   {"mark":{"type":"rule","color":"#7a7a7a","strokeDash":[2,2],"strokeWidth":1.5},"encoding":{"y":{"datum":0,"type":"quantitative","scale":{"domain":[-0.002,0.002]},"axis":{"orient":"right","title":null,"labels":false,"values":[-0.0019,-0.0018,-0.0017,-0.0016,-0.0015,-0.0014,-0.0013,-0.0012,-0.0011,-0.001,-0.0009,-0.0008,-0.0007,-0.0006,-0.0005,-0.0004,-0.0003,-0.0002,-0.0001,0,0.0001,0.0002,0.0003,0.0004,0.0005,0.0006,0.0007,0.0008,0.0009,0.001,0.0011,0.0012,0.0013,0.0014,0.0015,0.0016,0.0017,0.0018,0.0019],"tickSize":{"condition":{"test":"abs(datum.value*2000-round(datum.value*2000))<0.001","value":-11},"value":-5.5},"tickColor":"black","tickWidth":1}}}},
   {"encoding":{
     "x":{"field":"z","type":"quantitative","scale":{"domain":[0.0463,0.9437]},"axis":{"title":"Hadron z","titleX":209,"titleY":49,"titleAlign":"center","titleBaseline":"alphabetic","titleFontSize":18,"titleColor":"black","values":[0.06,0.08,0.1,0.12,0.14,0.16,0.18,0.2,0.22,0.24,0.26,0.28,0.3,0.32,0.34,0.36,0.38,0.4,0.42,0.44,0.46,0.48,0.5,0.52,0.54,0.56,0.58,0.6,0.62,0.64,0.66,0.68,0.7,0.72,0.74,0.76,0.78,0.8,0.82,0.84,0.86,0.88,0.9,0.92,0.94],"labelExpr":"abs(datum.value*10-round(datum.value*10))<0.001 ? format(datum.value,'.1f') : ''","labelFontSize":14,"labelColor":"black","labelPadding":14,"tickSize":{"condition":{"test":"abs(datum.value*10-round(datum.value*10))<0.001","value":-10},"value":-5},"tickColor":"black","tickWidth":1}},
     "y":{"field":"a","type":"quantitative","scale":{"domain":[-0.002,0.002]},"axis":{"orient":"left","title":null,"values":[-0.0019,-0.0018,-0.0017,-0.0016,-0.0015,-0.0014,-0.0013,-0.0012,-0.0011,-0.001,-0.0009,-0.0008,-0.0007,-0.0006,-0.0005,-0.0004,-0.0003,-0.0002,-0.0001,0,0.0001,0.0002,0.0003,0.0004,0.0005,0.0006,0.0007,0.0008,0.0009,0.001,0.0011,0.0012,0.0013,0.0014,0.0015,0.0016,0.0017,0.0018,0.0019],"labelExpr":"abs(datum.value*2000-round(datum.value*2000))<0.001 ? format(datum.value,'~f') : ''","labelFontSize":14,"labelColor":"black","labelPadding":13,"tickSize":{"condition":{"test":"abs(datum.value*2000-round(datum.value*2000))<0.001","value":-11},"value":-5.5},"tickColor":"black","tickWidth":1}}},
    "layer":[
     {"data":{"name":"an"},"transform":[{"filter":"datum.p==4"}],"mark":{"type":"rule","strokeWidth":2,"clip":true},"encoding":{"y":{"field":"lo","type":"quantitative","scale":{"domain":[-0.002,0.002]}},"y2":{"field":"hi"},"color":{"field":"q","type":"nominal","scale":{"domain":["hp","hm"],"range":["#e03131","#2828cc"]},"legend":null}}},
     {"data":{"name":"an"},"transform":[{"filter":"datum.p==4"}],"mark":{"type":"point","shape":"M-1,0L1,0","size":25,"strokeWidth":1.5,"filled":false,"opacity":1,"clip":true},"encoding":{"y":{"field":"lo","type":"quantitative","scale":{"domain":[-0.002,0.002]}},"color":{"field":"q","type":"nominal","scale":{"domain":["hp","hm"],"range":["#e03131","#2828cc"]},"legend":null}}},
     {"data":{"name":"an"},"transform":[{"filter":"datum.p==4"}],"mark":{"type":"point","shape":"M-1,0L1,0","size":25,"strokeWidth":1.5,"filled":false,"opacity":1,"clip":true},"encoding":{"y":{"field":"hi","type":"quantitative","scale":{"domain":[-0.002,0.002]}},"color":{"field":"q","type":"nominal","scale":{"domain":["hp","hm"],"range":["#e03131","#2828cc"]},"legend":null}}},
     {"data":{"name":"an"},"transform":[{"filter":"datum.p==4"}],"mark":{"type":"point","shape":"circle","size":42,"strokeWidth":1.3,"filled":false,"fill":"white","opacity":1},"encoding":{"color":{"field":"q","type":"nominal","scale":{"domain":["hp","hm"],"range":["#e03131","#2828cc"]},"legend":null}}},
     {"data":{"name":"legc"},"mark":{"type":"point","shape":"circle","size":30,"strokeWidth":1.2,"filled":false,"opacity":1},"encoding":{"color":{"field":"q","type":"nominal","scale":{"domain":["hp","hm"],"range":["#e03131","#2828cc"]},"legend":null}}},
     {"data":{"name":"txt"},"transform":[{"filter":"datum.p==4 && datum.k=='bb'"}],"mark":{"type":"text","align":"left","baseline":"alphabetic","font":"Liberation Sans","fontSize":15,"fontWeight":"bold","color":"black"},"encoding":{"text":{"field":"t"}}},
     {"data":{"name":"txt"},"transform":[{"filter":"datum.p==4 && datum.k=='bsub'"}],"mark":{"type":"text","align":"left","baseline":"alphabetic","font":"Liberation Sans","fontSize":10,"fontWeight":"bold","color":"black"},"encoding":{"text":{"field":"t"}}},
     {"data":{"name":"txt"},"transform":[{"filter":"datum.p==4 && datum.k=='eta'"}],"mark":{"type":"text","align":"left","baseline":"alphabetic","font":"Liberation Sans","fontSize":15,"color":"black"},"encoding":{"text":{"field":"t"}}},
     {"data":{"name":"txt"},"transform":[{"filter":"datum.p==4 && datum.k=='leg'"}],"mark":{"type":"text","align":"left","baseline":"alphabetic","font":"Liberation Sans","fontSize":13,"color":"black"},"encoding":{"text":{"field":"t"}}},
     {"data":{"name":"txt"},"transform":[{"filter":"datum.p==4 && datum.k=='legsub'"}],"mark":{"type":"text","align":"left","baseline":"alphabetic","font":"Liberation Sans","fontSize":9,"color":"black"},"encoding":{"text":{"field":"t"}}},
     {"data":{"name":"txt"},"transform":[{"filter":"datum.p==4 && datum.k=='AN'"}],"mark":{"type":"text","angle":270,"align":"left","baseline":"alphabetic","font":"Liberation Sans","fontSize":19,"color":"black"},"encoding":{"text":{"field":"t"}}},
     {"data":{"name":"txt"},"transform":[{"filter":"datum.p==4 && datum.k=='ANsub'"}],"mark":{"type":"text","angle":270,"align":"left","baseline":"alphabetic","font":"Liberation Sans","fontSize":11,"color":"black"},"encoding":{"text":{"field":"t"}}}
    ]}
  ]},
 {"width":418,"height":333,"view":{"stroke":"black","strokeWidth":1},"resolve":{"axis":{"y":"independent"}},
  "layer":[
   {"mark":{"type":"rule","color":"#7a7a7a","strokeDash":[2,2],"strokeWidth":1.5},"encoding":{"y":{"datum":0,"type":"quantitative","scale":{"domain":[-0.002,0.002]},"axis":{"orient":"right","title":null,"labels":false,"values":[-0.0019,-0.0018,-0.0017,-0.0016,-0.0015,-0.0014,-0.0013,-0.0012,-0.0011,-0.001,-0.0009,-0.0008,-0.0007,-0.0006,-0.0005,-0.0004,-0.0003,-0.0002,-0.0001,0,0.0001,0.0002,0.0003,0.0004,0.0005,0.0006,0.0007,0.0008,0.0009,0.001,0.0011,0.0012,0.0013,0.0014,0.0015,0.0016,0.0017,0.0018,0.0019],"tickSize":{"condition":{"test":"abs(datum.value*2000-round(datum.value*2000))<0.001","value":-11},"value":-5.5},"tickColor":"black","tickWidth":1}}}},
   {"encoding":{
     "x":{"field":"z","type":"quantitative","scale":{"domain":[0.0548,0.9426]},"axis":{"title":"Hadron z","titleX":207,"titleY":49,"titleAlign":"center","titleBaseline":"alphabetic","titleFontSize":18,"titleColor":"black","values":[0.06,0.08,0.1,0.12,0.14,0.16,0.18,0.2,0.22,0.24,0.26,0.28,0.3,0.32,0.34,0.36,0.38,0.4,0.42,0.44,0.46,0.48,0.5,0.52,0.54,0.56,0.58,0.6,0.62,0.64,0.66,0.68,0.7,0.72,0.74,0.76,0.78,0.8,0.82,0.84,0.86,0.88,0.9,0.92,0.94],"labelExpr":"abs(datum.value*10-round(datum.value*10))<0.001 ? format(datum.value,'.1f') : ''","labelFontSize":14,"labelColor":"black","labelPadding":14,"tickSize":{"condition":{"test":"abs(datum.value*10-round(datum.value*10))<0.001","value":-10},"value":-5},"tickColor":"black","tickWidth":1}},
     "y":{"field":"a","type":"quantitative","scale":{"domain":[-0.002,0.002]},"axis":{"orient":"left","title":null,"labels":false,"values":[-0.0019,-0.0018,-0.0017,-0.0016,-0.0015,-0.0014,-0.0013,-0.0012,-0.0011,-0.001,-0.0009,-0.0008,-0.0007,-0.0006,-0.0005,-0.0004,-0.0003,-0.0002,-0.0001,0,0.0001,0.0002,0.0003,0.0004,0.0005,0.0006,0.0007,0.0008,0.0009,0.001,0.0011,0.0012,0.0013,0.0014,0.0015,0.0016,0.0017,0.0018,0.0019],"tickSize":{"condition":{"test":"abs(datum.value*2000-round(datum.value*2000))<0.001","value":-11},"value":-5.5},"tickColor":"black","tickWidth":1}}},
    "layer":[
     {"data":{"name":"an"},"transform":[{"filter":"datum.p==5"}],"mark":{"type":"rule","strokeWidth":2,"clip":true},"encoding":{"y":{"field":"lo","type":"quantitative","scale":{"domain":[-0.002,0.002]}},"y2":{"field":"hi"},"color":{"field":"q","type":"nominal","scale":{"domain":["hp","hm"],"range":["#e03131","#2828cc"]},"legend":null}}},
     {"data":{"name":"an"},"transform":[{"filter":"datum.p==5"}],"mark":{"type":"point","shape":"M-1,0L1,0","size":25,"strokeWidth":1.5,"filled":false,"opacity":1,"clip":true},"encoding":{"y":{"field":"lo","type":"quantitative","scale":{"domain":[-0.002,0.002]}},"color":{"field":"q","type":"nominal","scale":{"domain":["hp","hm"],"range":["#e03131","#2828cc"]},"legend":null}}},
     {"data":{"name":"an"},"transform":[{"filter":"datum.p==5"}],"mark":{"type":"point","shape":"M-1,0L1,0","size":25,"strokeWidth":1.5,"filled":false,"opacity":1,"clip":true},"encoding":{"y":{"field":"hi","type":"quantitative","scale":{"domain":[-0.002,0.002]}},"color":{"field":"q","type":"nominal","scale":{"domain":["hp","hm"],"range":["#e03131","#2828cc"]},"legend":null}}},
     {"data":{"name":"an"},"transform":[{"filter":"datum.p==5"}],"mark":{"type":"point","shape":"circle","size":42,"strokeWidth":1.3,"filled":false,"fill":"white","opacity":1},"encoding":{"color":{"field":"q","type":"nominal","scale":{"domain":["hp","hm"],"range":["#e03131","#2828cc"]},"legend":null}}},
     {"data":{"name":"txt"},"transform":[{"filter":"datum.p==5 && datum.k=='bb'"}],"mark":{"type":"text","align":"left","baseline":"alphabetic","font":"Liberation Sans","fontSize":15,"fontWeight":"bold","color":"black"},"encoding":{"text":{"field":"t"}}},
     {"data":{"name":"txt"},"transform":[{"filter":"datum.p==5 && datum.k=='bsub'"}],"mark":{"type":"text","align":"left","baseline":"alphabetic","font":"Liberation Sans","fontSize":10,"fontWeight":"bold","color":"black"},"encoding":{"text":{"field":"t"}}},
     {"data":{"name":"txt"},"transform":[{"filter":"datum.p==5 && datum.k=='eta'"}],"mark":{"type":"text","align":"left","baseline":"alphabetic","font":"Liberation Sans","fontSize":15,"color":"black"},"encoding":{"text":{"field":"t"}}}
    ]}
  ]},
 {"width":439,"height":333,"view":{"stroke":"black","strokeWidth":1},"resolve":{"axis":{"y":"independent"}},
  "layer":[
   {"mark":{"type":"rule","color":"#7a7a7a","strokeDash":[2,2],"strokeWidth":1.5},"encoding":{"y":{"datum":0,"type":"quantitative","scale":{"domain":[-0.002,0.002]},"axis":{"orient":"right","title":null,"labels":false,"values":[-0.0019,-0.0018,-0.0017,-0.0016,-0.0015,-0.0014,-0.0013,-0.0012,-0.0011,-0.001,-0.0009,-0.0008,-0.0007,-0.0006,-0.0005,-0.0004,-0.0003,-0.0002,-0.0001,0,0.0001,0.0002,0.0003,0.0004,0.0005,0.0006,0.0007,0.0008,0.0009,0.001,0.0011,0.0012,0.0013,0.0014,0.0015,0.0016,0.0017,0.0018,0.0019],"tickSize":{"condition":{"test":"abs(datum.value*2000-round(datum.value*2000))<0.001","value":-11},"value":-5.5},"tickColor":"black","tickWidth":1}}}},
   {"encoding":{
     "x":{"field":"z","type":"quantitative","scale":{"domain":[0.0506,0.928]},"axis":{"title":"Hadron z","titleX":220,"titleY":49,"titleAlign":"center","titleBaseline":"alphabetic","titleFontSize":18,"titleColor":"black","values":[0.06,0.08,0.1,0.12,0.14,0.16,0.18,0.2,0.22,0.24,0.26,0.28,0.3,0.32,0.34,0.36,0.38,0.4,0.42,0.44,0.46,0.48,0.5,0.52,0.54,0.56,0.58,0.6,0.62,0.64,0.66,0.68,0.7,0.72,0.74,0.76,0.78,0.8,0.82,0.84,0.86,0.88,0.9,0.92],"labelExpr":"abs(datum.value*10-round(datum.value*10))<0.001 ? format(datum.value,'.1f') : ''","labelFontSize":14,"labelColor":"black","labelPadding":14,"tickSize":{"condition":{"test":"abs(datum.value*10-round(datum.value*10))<0.001","value":-10},"value":-5},"tickColor":"black","tickWidth":1}},
     "y":{"field":"a","type":"quantitative","scale":{"domain":[-0.002,0.002]},"axis":{"orient":"left","title":null,"labels":false,"values":[-0.0019,-0.0018,-0.0017,-0.0016,-0.0015,-0.0014,-0.0013,-0.0012,-0.0011,-0.001,-0.0009,-0.0008,-0.0007,-0.0006,-0.0005,-0.0004,-0.0003,-0.0002,-0.0001,0,0.0001,0.0002,0.0003,0.0004,0.0005,0.0006,0.0007,0.0008,0.0009,0.001,0.0011,0.0012,0.0013,0.0014,0.0015,0.0016,0.0017,0.0018,0.0019],"tickSize":{"condition":{"test":"abs(datum.value*2000-round(datum.value*2000))<0.001","value":-11},"value":-5.5},"tickColor":"black","tickWidth":1}}},
    "layer":[
     {"data":{"name":"an"},"transform":[{"filter":"datum.p==6"}],"mark":{"type":"rule","strokeWidth":2,"clip":true},"encoding":{"y":{"field":"lo","type":"quantitative","scale":{"domain":[-0.002,0.002]}},"y2":{"field":"hi"},"color":{"field":"q","type":"nominal","scale":{"domain":["hp","hm"],"range":["#e03131","#2828cc"]},"legend":null}}},
     {"data":{"name":"an"},"transform":[{"filter":"datum.p==6"}],"mark":{"type":"point","shape":"M-1,0L1,0","size":25,"strokeWidth":1.5,"filled":false,"opacity":1,"clip":true},"encoding":{"y":{"field":"lo","type":"quantitative","scale":{"domain":[-0.002,0.002]}},"color":{"field":"q","type":"nominal","scale":{"domain":["hp","hm"],"range":["#e03131","#2828cc"]},"legend":null}}},
     {"data":{"name":"an"},"transform":[{"filter":"datum.p==6"}],"mark":{"type":"point","shape":"M-1,0L1,0","size":25,"strokeWidth":1.5,"filled":false,"opacity":1,"clip":true},"encoding":{"y":{"field":"hi","type":"quantitative","scale":{"domain":[-0.002,0.002]}},"color":{"field":"q","type":"nominal","scale":{"domain":["hp","hm"],"range":["#e03131","#2828cc"]},"legend":null}}},
     {"data":{"name":"an"},"transform":[{"filter":"datum.p==6"}],"mark":{"type":"point","shape":"circle","size":42,"strokeWidth":1.3,"filled":false,"fill":"white","opacity":1},"encoding":{"color":{"field":"q","type":"nominal","scale":{"domain":["hp","hm"],"range":["#e03131","#2828cc"]},"legend":null}}},
     {"data":{"name":"txt"},"transform":[{"filter":"datum.p==6 && datum.k=='bb'"}],"mark":{"type":"text","align":"left","baseline":"alphabetic","font":"Liberation Sans","fontSize":15,"fontWeight":"bold","color":"black"},"encoding":{"text":{"field":"t"}}},
     {"data":{"name":"txt"},"transform":[{"filter":"datum.p==6 && datum.k=='bsub'"}],"mark":{"type":"text","align":"left","baseline":"alphabetic","font":"Liberation Sans","fontSize":10,"fontWeight":"bold","color":"black"},"encoding":{"text":{"field":"t"}}},
     {"data":{"name":"txt"},"transform":[{"filter":"datum.p==6 && datum.k=='eta'"}],"mark":{"type":"text","align":"left","baseline":"alphabetic","font":"Liberation Sans","fontSize":15,"color":"black"},"encoding":{"text":{"field":"t"}}}
    ]}
  ]}
],"spacing":0,"bounds":"flush"}
]
}
